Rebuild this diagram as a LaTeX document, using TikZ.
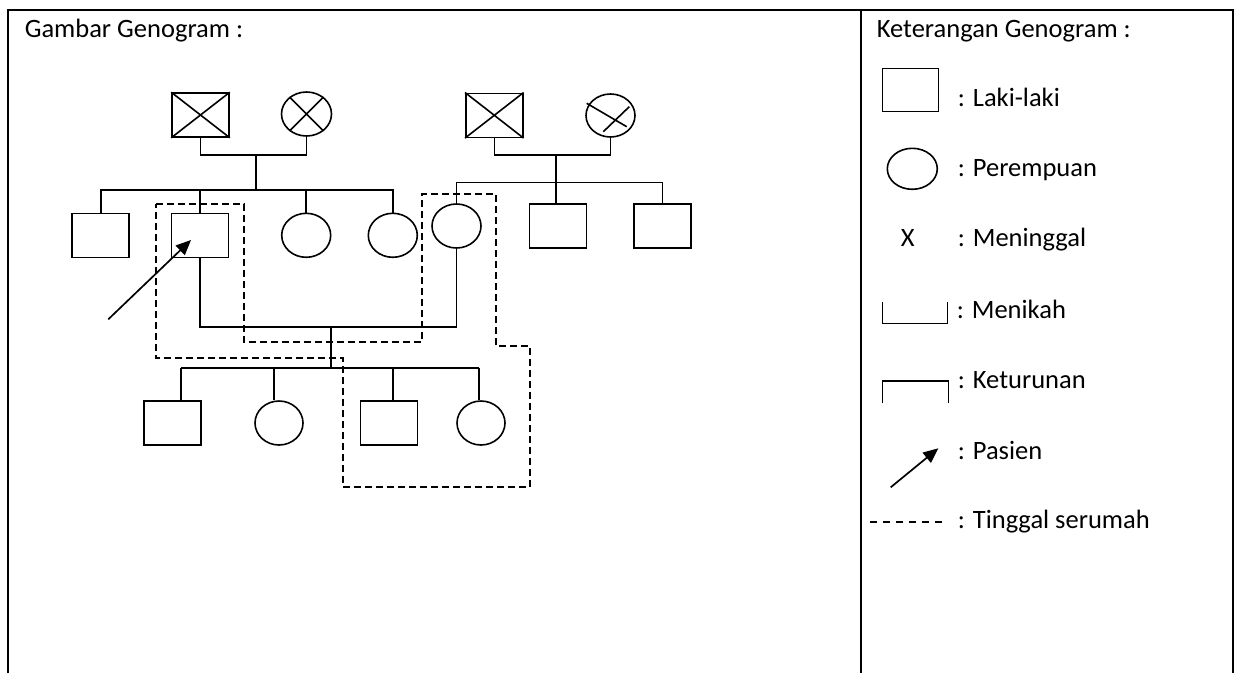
\documentclass[tikz,border=0pt]{standalone}
\usepackage{fontspec}
\setmainfont{Carlito}
\usetikzlibrary{shapes.geometric,arrows.meta}
\begin{document}
\begin{tikzpicture}[x=1pt,y=-1pt,
  line width=1.6pt,
  male/.style={draw,rectangle,minimum width=57pt,minimum height=44pt,inner sep=0pt},
  female/.style={draw,ellipse,minimum width=49pt,minimum height=44pt,inner sep=0pt},
  txt/.style={anchor=base west,inner sep=0pt,font=\fontsize{26.5}{31}\selectfont},
  house/.style={dash pattern=on 7pt off 4pt,line width=1.5pt},
  patarrow/.style={-{Triangle[length=15pt,width=13pt]},line width=1.7pt}]
\useasboundingbox (0,0) rectangle (1235,673);
% frame
\draw (8,673) -- (8,10) -- (1233,10) -- (1233,673);
\draw (861,10) -- (861,673);
\node[txt] (title) at (24,37.3) {Gambar Genogram :};
\node[txt] (ltitle) at (876,37.3) {Keterangan Genogram :};
% grandparents 1
\node[male] (GF1) at (200.5,115) {};
\node[female,minimum width=50pt] (GM1) at (306.5,114) {};
\draw (GF1.north west) -- (GF1.south east) (GF1.north east) -- (GF1.south west);
\draw (GM1.135) -- (GM1.-45) (GM1.45) -- (GM1.-135);
\coordinate (m1) at (256,155);
\draw (GF1.south) |- (m1) -| (GM1.south);
% grandparents 2
\node[male] (GF2) at (494.3,115.3) {};
\node[female,minimum height=43pt] (GM2) at (610.5,115.5) {};
\draw (GF2.north west) -- (GF2.south east) (GF2.north east) -- (GF2.south west);
\coordinate (x1a) at (586.7,103.3);
\coordinate (x1b) at (626.7,126.7);
\coordinate (x2a) at (629.3,106.7);
\coordinate (x2b) at (603.3,131.7);
\draw (x1a) -- (x1b) (x2a) -- (x2b);
\coordinate (m2) at (556,155);
\draw (GF2.south) |- (m2) -| (GM2.south);
% children of family 1
\node[male] (C1) at (100.7,235.3) {};
\node[male] (P) at (200,235.3) {};
\node[female] (C3) at (306.2,235.3) {};
\node[female] (C4) at (392.8,235.3) {};
\coordinate (s1) at (256,190);
\draw (m1) -- (s1);
\draw (C1.north) |- (s1) -| (C4.north);
\draw (P.north) -- (P.north |- s1);
\draw (C3.north) -- (C3.north |- s1);
% children of family 2
\node[female] (M) at (456.5,226) {};
\node[male] (D1) at (558,226) {};
\node[male] (D2) at (662.5,226) {};
\coordinate (s2) at (556,182.3);
\draw (M.north) |- (s2) -| (D2.north);
\draw (m2) -- (m2 |- D1.north);
% marriage of parents
\coordinate (mm) at (330.7,326.7);
\draw (P.south) |- (mm) -| (M.south);
\coordinate (s3) at (330.7,367.7);
\draw (mm) -- (s3);
% grandchildren
\node[male] (K1) at (172.5,423) {};
\node[female,minimum width=48pt] (K2) at (279,423) {};
\node[male] (K3) at (389,423) {};
\node[female,minimum width=48pt] (K4) at (481,423) {};
\coordinate (sl) at (181,367.7);
\coordinate (sk2) at (274,367.7);
\coordinate (sk3) at (392.7,367.7);
\coordinate (sr) at (479,367.7);
\draw (sl) -- (sr);
\draw (sl) -- (sl |- K1.north);
\draw (sk2) -- (sk2 |- K2.north);
\draw (sk3) -- (sk3 |- K3.north);
\draw (sr) -- (sr |- K4.north);
% patient arrow
\coordinate (pa) at (108.3,319.3);
\coordinate (pt) at (191,240);
\draw[patarrow] (pa) -- (pt);
% household dashed line
\draw[house] (156,204) -- (244,204) -- (244,342) -- (422,342) -- (422,194) -- (496,194) -- (496,346) -- (530,346) -- (530,487) -- (343,487) -- (343,358) -- (156,358) -- cycle;
% legend
\node[male,minimum width=56pt,minimum height=43pt] (LM) at (910.5,90) {};
\node[txt] (LMt) at (957,106.7) {: Laki-laki};
\node[female,minimum width=50pt,minimum height=41pt] (LF) at (912.3,168.8) {};
\node[txt] (LFt) at (957,176.7) {: Perempuan};
\node[txt] (LX) at (900,246.7) {X};
\node[txt] (LXt) at (957,246.7) {: Meninggal};
\coordinate (mk1) at (882.3,301.7);
\coordinate (mk2) at (947.3,301.7);
\draw (mk1) -- (mk1 |- 0,323.3) -- (mk2 |- 0,323.3) -- (mk2);
\node[txt] (LMk) at (956,318.3) {: Menikah};
\coordinate (kt1) at (882.3,403.3);
\coordinate (kt2) at (948.3,403.3);
\draw (kt1) -- (kt1 |- 0,380.7) -- (kt2 |- 0,380.7) -- (kt2);
\node[txt] (LKt) at (957,388.3) {: Keturunan};
\coordinate (la) at (890.7,487.3);
\coordinate (lt) at (938.3,448.3);
\draw[patarrow] (la) -- (lt);
\node[txt] (LPt) at (957,459.3) {: Pasien};
\coordinate (ld1) at (870,521.7);
\coordinate (ld2) at (948,521.7);
\draw[dash pattern=on 7pt off 6pt] (ld1) -- (ld2);
\node[txt] (LTt) at (957,528.3) {: Tinggal serumah};
\end{tikzpicture}
\end{document}
